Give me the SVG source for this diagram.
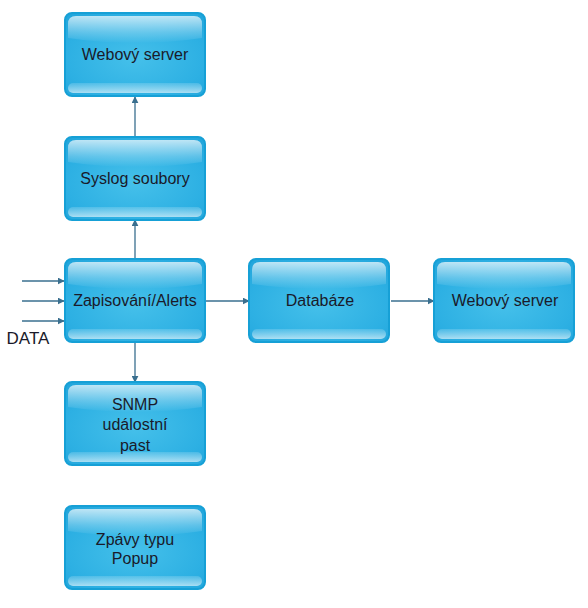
<svg xmlns="http://www.w3.org/2000/svg" width="588" height="608" viewBox="0 0 588 608">
<defs>
<radialGradient id="body" cx="0.5" cy="0.55" r="0.7">
<stop offset="0" stop-color="#45c0ea"/>
<stop offset="0.7" stop-color="#2db0e3"/>
<stop offset="1" stop-color="#22a6dc"/>
</radialGradient>
<linearGradient id="gloss" x1="0" y1="0" x2="0" y2="1">
<stop offset="0" stop-color="#ffffff" stop-opacity="0.7"/>
<stop offset="0.6" stop-color="#ffffff" stop-opacity="0.25"/>
<stop offset="1" stop-color="#ffffff" stop-opacity="0"/>
</linearGradient>
<linearGradient id="band" x1="0" y1="0" x2="0" y2="1">
<stop offset="0" stop-color="#ffffff" stop-opacity="0.15"/>
<stop offset="1" stop-color="#ffffff" stop-opacity="0.6"/>
</linearGradient>
<marker id="arr" viewBox="0 0 10 10" refX="9" refY="5" markerWidth="7" markerHeight="7" orient="auto" markerUnits="userSpaceOnUse">
<path d="M0,0 L10,5 L0,10 z" fill="#3a6f8f"/>
</marker>
<g id="box">
<rect x="1" y="1" width="140" height="83" rx="7" fill="url(#body)" stroke="#16a0d6" stroke-width="2"/>
<path d="M4,12 Q4,4 12,4 L130,4 Q138,4 138,12 L138,26 Q71,36 4,26 z" fill="url(#gloss)"/>
<rect x="4" y="71" width="134" height="10" rx="5" fill="url(#band)"/>
</g>
</defs>
<style>
text{font-family:"Liberation Sans",Arial,sans-serif;font-size:16px;fill:#1a1a2a;text-anchor:middle}
.c{stroke:#3a6f8f;stroke-width:1.3;fill:none;marker-end:url(#arr)}
</style>
<g id="connectors">
<line class="c" x1="135" y1="137" x2="135" y2="97"/>
<line class="c" x1="135" y1="259" x2="135" y2="220"/>
<line class="c" x1="135" y1="343" x2="135" y2="382"/>
<line class="c" x1="206" y1="301" x2="249" y2="301"/>
<line class="c" x1="391" y1="301" x2="434" y2="301"/>
<line class="c" x1="22" y1="281" x2="64" y2="281"/>
<line class="c" x1="22" y1="301" x2="64" y2="301"/>
<line class="c" x1="22" y1="321" x2="64" y2="321"/>
</g>
<g id="web1"><use href="#box" x="64" y="12"/><text x="135" y="60">Webový server</text></g>
<g id="syslog"><use href="#box" x="64" y="136"/><text x="135" y="184">Syslog soubory</text></g>
<g id="zapis"><use href="#box" x="64" y="258"/><text x="135" y="306">Zapisování/Alerts</text></g>
<g id="snmp"><use href="#box" x="64" y="381"/><text x="135" y="410">SNMP</text><text x="135" y="430">událostní</text><text x="135" y="451">past</text></g>
<g id="popup"><use href="#box" x="64" y="505"/><text x="135" y="545">Zpávy typu</text><text x="135" y="564">Popup</text></g>
<g id="db"><use href="#box" x="248" y="258"/><text x="320" y="306">Databáze</text></g>
<g id="web2"><use href="#box" x="433" y="258"/><text x="505" y="306">Webový server</text></g>
<g id="data"><text x="28" y="344" style="font-size:17px">DATA</text></g>
</svg>
